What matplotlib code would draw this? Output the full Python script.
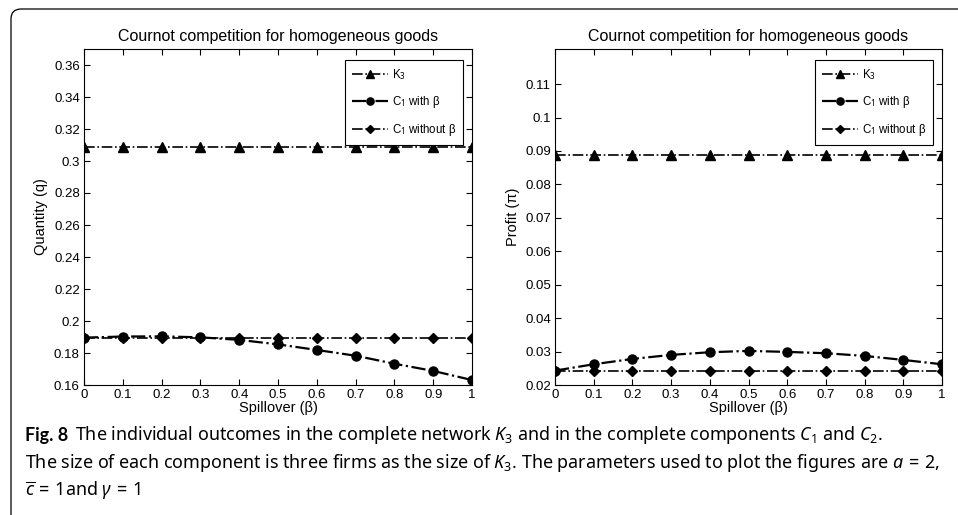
import numpy as np
import matplotlib
matplotlib.use("Agg")
import matplotlib.pyplot as plt
from matplotlib.patches import FancyBboxPatch

plt.rcParams['font.family'] = ['Liberation Sans', 'DejaVu Sans']
plt.rcParams['mathtext.fontset'] = 'custom'
plt.rcParams['mathtext.rm'] = 'Noto Sans'
plt.rcParams['mathtext.it'] = 'Noto Sans:italic'
plt.rcParams['mathtext.bf'] = 'Noto Sans:bold'

beta = [0, 0.1, 0.2, 0.3, 0.4, 0.5, 0.6, 0.7, 0.8, 0.9, 1.0]

# quantities
q_k3 = [0.3085] * 11
q_c1_beta = [0.1896, 0.1903, 0.1904, 0.1898, 0.1882, 0.1854, 0.1819, 0.1783, 0.1733, 0.1688, 0.1631]
q_c1_nobeta = [0.1896] * 11

# profits
p_k3 = [0.0888] * 11
p_c1_beta = [0.0243, 0.0262, 0.0278, 0.0290, 0.0298, 0.0302, 0.0299, 0.0295, 0.0287, 0.0275, 0.0262]
p_c1_nobeta = [0.0243] * 11

labels = [r'K$_3$', r'C$_1$ with β', r'C$_1$ without β']
xticks = [0, 0.1, 0.2, 0.3, 0.4, 0.5, 0.6, 0.7, 0.8, 0.9, 1]
xticklabels = ['0', '0.1', '0.2', '0.3', '0.4', '0.5', '0.6', '0.7', '0.8', '0.9', '1']

fig = plt.figure(figsize=(9.58, 5.15), dpi=100)

ax1 = fig.add_axes([84/958, 130/515, 388/958, 336/515])
ax2 = fig.add_axes([555/958, 130/515, 387/958, 336/515])


def draw(ax, k3, withb, withoutb, ylim, yticks, ylabel):
    ax.plot(beta, k3, '-.', color='black', lw=1.2, marker='^', ms=7, label=labels[0])
    ax.plot(beta, withb, '-.', color='black', lw=1.6, marker='o', ms=6.5, label=labels[1])
    ax.plot(beta, withoutb, '-.', color='black', lw=1.2, marker='D', ms=5.5, label=labels[2])
    ax.set_xlim(0, 1)
    ax.set_ylim(*ylim)
    ax.set_xticks(xticks)
    ax.set_xticklabels(xticklabels)
    ax.set_yticks(yticks)
    ax.set_yticklabels(['%g' % t for t in yticks])
    ax.tick_params(direction='in', top=True, right=True, labelsize=9.5, length=4, pad=3, width=0.8)
    for s in ax.spines.values():
        s.set_linewidth(0.8)
    ax.set_title('Cournot competition for homogeneous goods', fontsize=11.5, pad=6)
    ax.set_xlabel('Spillover (β)', fontsize=10.5, labelpad=0)
    ax.set_ylabel(ylabel, fontsize=10.5, labelpad=4)
    leg = ax.legend(loc='upper right', bbox_to_anchor=(0.992, 0.983), fontsize=8.3,
                    handlelength=3.2, labelspacing=1.05, borderpad=0.6, handletextpad=0.3,
                    markerscale=0.8, fancybox=False, framealpha=1, edgecolor='black')
    leg.get_frame().set_linewidth(0.8)


draw(ax1, q_k3, q_c1_beta, q_c1_nobeta, (0.16, 0.37),
     [0.16, 0.18, 0.2, 0.22, 0.24, 0.26, 0.28, 0.3, 0.32, 0.34, 0.36], 'Quantity (q)')
draw(ax2, p_k3, p_c1_beta, p_c1_nobeta, (0.02, 0.1205),
     [0.02, 0.03, 0.04, 0.05, 0.06, 0.07, 0.08, 0.09, 0.1, 0.11], 'Profit (π)')

# rounded frame around the figure panel
frame = FancyBboxPatch((0.11, -0.5), 10.0, 5.15 - 0.09 + 0.5,
                       boxstyle='round,pad=0,rounding_size=0.1',
                       transform=fig.dpi_scale_trans, fill=False,
                       edgecolor='black', lw=0.9, clip_on=False)
fig.add_artist(frame)

# caption
fs = 12.9
x0 = 25 / 958
figtxt = fig.text(x0, 1 - 435/515, 'Fig. 8', fontsize=fs, family=['Lato', 'DejaVu Sans'],
                  weight='bold', ha='left', va='center')
fig.canvas.draw()
bb = figtxt.get_window_extent(fig.canvas.get_renderer())
x1 = (bb.x1 + 7) / 958
cap = dict(fontsize=fs, family='Noto Sans', ha='left', va='center')
fig.text(x1, 1 - 435/515,
         r'The individual outcomes in the complete network $K_3$ and in the complete components $C_1$ and $C_2$.',
         **cap)
fig.text(x0, 1 - 463/515,
         r'The size of each component is three firms as the size of $K_3$. The parameters used to plot the figures are $a\,=\,2$,',
         **cap)
fig.text(x0, 1 - 491/515, r'$\overline{c}\,=\,1$and $\gamma\,=\,1$', **cap)

fig.savefig('out.png', dpi=100)
